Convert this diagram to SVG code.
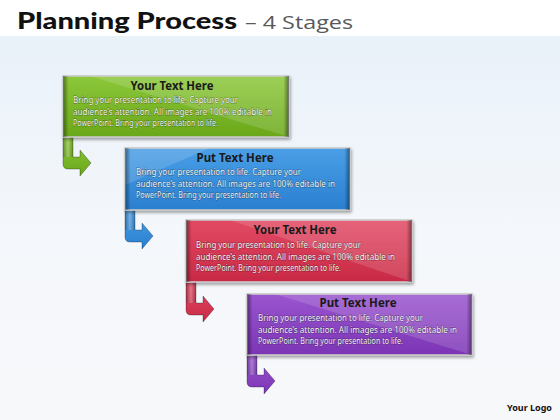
<svg xmlns="http://www.w3.org/2000/svg" width="560" height="420" viewBox="0 0 560 420">
<defs>
<linearGradient id="bg" x1="0" y1="0" x2="0" y2="1">
<stop offset="0" stop-color="#e9f1f9"/>
<stop offset="0.5" stop-color="#f4f7fb"/>
<stop offset="1" stop-color="#f7f8fa"/>
</linearGradient>
<linearGradient id="gG" x1="0" y1="0" x2="0" y2="1"><stop offset="0" stop-color="#8cc83a"/><stop offset="1" stop-color="#6aa71a"/></linearGradient>
<linearGradient id="gB" x1="0" y1="0" x2="0" y2="1"><stop offset="0" stop-color="#4a9fe6"/><stop offset="1" stop-color="#2a7fd0"/></linearGradient>
<linearGradient id="gR" x1="0" y1="0" x2="0" y2="1"><stop offset="0" stop-color="#e24a64"/><stop offset="1" stop-color="#c92a45"/></linearGradient>
<linearGradient id="gP" x1="0" y1="0" x2="0" y2="1"><stop offset="0" stop-color="#9a55cf"/><stop offset="1" stop-color="#7c35b5"/></linearGradient>
<linearGradient id="side" x1="0" y1="0" x2="1" y2="0">
<stop offset="0" stop-color="#000" stop-opacity="0.45"/>
<stop offset="0.025" stop-color="#000" stop-opacity="0"/>
<stop offset="0.975" stop-color="#000" stop-opacity="0"/>
<stop offset="1" stop-color="#000" stop-opacity="0.45"/>
</linearGradient>
<linearGradient id="stem" x1="0" y1="0" x2="1" y2="0">
<stop offset="0" stop-color="#000" stop-opacity="0.25"/>
<stop offset="0.5" stop-color="#fff" stop-opacity="0.25"/>
<stop offset="1" stop-color="#000" stop-opacity="0.2"/>
</linearGradient>
<filter id="sh" x="-5%" y="-10%" width="110%" height="130%">
<feGaussianBlur in="SourceAlpha" stdDeviation="1.5"/>
<feOffset dx="1" dy="2" result="b"/>
<feComponentTransfer><feFuncA type="linear" slope="0.35"/></feComponentTransfer>
<feMerge><feMergeNode/><feMergeNode in="SourceGraphic"/></feMerge>
</filter>
</defs>
<style>
.frame{stroke:#c9c9c9;stroke-width:1.6}
.hl{fill:#fff;fill-opacity:0.14}
.ttl{font-family:"Noto Sans","Liberation Sans",sans-serif;font-weight:bold;font-size:12px;fill:#1a1a1a;text-anchor:middle}
.body{font-family:"Noto Sans","Liberation Sans",sans-serif;font-size:8.6px;fill:#f6f6f6;stroke:#000;stroke-opacity:0.45;stroke-width:0.8;paint-order:stroke}
.arr{stroke:#000;stroke-opacity:0.35;stroke-width:0.8}
</style>
<rect x="0" y="0" width="560" height="420" fill="#ffffff"/>
<rect x="0" y="36" width="560" height="384" fill="url(#bg)"/>
<text x="17" y="29" font-family="Lato,'Liberation Sans',sans-serif" font-weight="900" font-size="23.5" fill="#111" textLength="220" lengthAdjust="spacingAndGlyphs">Planning Process</text>
<text x="245" y="29" font-family="'Open Sans','Liberation Sans',sans-serif" font-size="19" fill="#595959" textLength="108" lengthAdjust="spacingAndGlyphs">– 4 Stages</text>

<g id="connectors">
<path class="arr" fill="url(#gG)" d="M63 137 H73 V157 H80 V150 L91 163 L80 176 V169 H68 Q63 169 63 164 Z"/>
<path fill="url(#stem)" d="M63 137 H73 V157 H63 Z"/>
<path class="arr" fill="url(#gB)" d="M125 210 H135 V230 H142 V223 L153 236 L142 249 V242 H130 Q125 242 125 237 Z"/>
<path fill="url(#stem)" d="M125 210 H135 V230 H125 Z"/>
<path class="arr" fill="url(#gR)" d="M186 282 H196 V303 H203 V296 L214 309 L203 322 V315 H191 Q186 315 186 310 Z"/>
<path fill="url(#stem)" d="M186 282 H196 V303 H186 Z"/>
<path class="arr" fill="url(#gP)" d="M247 355 H257 V375 H264 V368 L275 381 L264 394 V387 H252 Q247 387 247 382 Z"/>
<path fill="url(#stem)" d="M247 355 H257 V375 H247 Z"/>
</g>

<g id="stage1">
<rect class="frame" x="63" y="76" width="226" height="61" fill="url(#gG)" filter="url(#sh)"/>
<polygon class="hl" points="90,76 289,76 289,137"/>
<rect x="63" y="76" width="226" height="61" fill="url(#side)"/>
<text class="ttl" x="172" y="90" textLength="83" lengthAdjust="spacingAndGlyphs">Your Text Here</text>
<text class="body" x="73" y="103" textLength="165" lengthAdjust="spacingAndGlyphs">Bring your presentation to life. Capture your</text>
<text class="body" x="73" y="114.5" textLength="199" lengthAdjust="spacingAndGlyphs">audience’s attention.  All images are 100% editable in</text>
<text class="body" x="73" y="126" textLength="145" lengthAdjust="spacingAndGlyphs">PowerPoint.  Bring your presentation to life.</text>
</g>

<g id="stage2">
<rect class="frame" x="125" y="148" width="225" height="62" fill="url(#gB)" filter="url(#sh)"/>
<polygon class="hl" points="125,148 210,148 125,185"/>
<rect x="125" y="148" width="225" height="62" fill="url(#side)"/>
<text class="ttl" x="235" y="162" textLength="77" lengthAdjust="spacingAndGlyphs">Put Text Here</text>
<text class="body" x="136" y="175" textLength="165" lengthAdjust="spacingAndGlyphs">Bring your presentation to life. Capture your</text>
<text class="body" x="136" y="186.5" textLength="199" lengthAdjust="spacingAndGlyphs">audience’s attention.  All images are 100% editable in</text>
<text class="body" x="136" y="198" textLength="145" lengthAdjust="spacingAndGlyphs">PowerPoint.  Bring your presentation to life.</text>
</g>

<g id="stage3">
<rect class="frame" x="186" y="220" width="226" height="62" fill="url(#gR)" filter="url(#sh)"/>
<polygon class="hl" points="230,220 412,220 412,282"/>
<rect x="186" y="220" width="226" height="62" fill="url(#side)"/>
<text class="ttl" x="295" y="234" textLength="83" lengthAdjust="spacingAndGlyphs">Your Text Here</text>
<text class="body" x="196" y="248" textLength="165" lengthAdjust="spacingAndGlyphs">Bring your presentation to life. Capture your</text>
<text class="body" x="196" y="259.5" textLength="199" lengthAdjust="spacingAndGlyphs">audience’s attention.  All images are 100% editable in</text>
<text class="body" x="196" y="271" textLength="145" lengthAdjust="spacingAndGlyphs">PowerPoint.  Bring your presentation to life.</text>
</g>

<g id="stage4">
<rect class="frame" x="247" y="294" width="225" height="61" fill="url(#gP)" filter="url(#sh)"/>
<polygon class="hl" points="275,294 472,294 472,355"/>
<rect x="247" y="294" width="225" height="61" fill="url(#side)"/>
<text class="ttl" x="358" y="307" textLength="77" lengthAdjust="spacingAndGlyphs">Put Text Here</text>
<text class="body" x="258" y="321" textLength="165" lengthAdjust="spacingAndGlyphs">Bring your presentation to life. Capture your</text>
<text class="body" x="258" y="332.5" textLength="199" lengthAdjust="spacingAndGlyphs">audience’s attention.  All images are 100% editable in</text>
<text class="body" x="258" y="344" textLength="145" lengthAdjust="spacingAndGlyphs">PowerPoint.  Bring your presentation to life.</text>
</g>

<text x="507" y="411" font-family="'Noto Sans','Liberation Sans',sans-serif" font-weight="bold" font-size="9" fill="#111" textLength="45" lengthAdjust="spacingAndGlyphs">Your Logo</text>
</svg>
